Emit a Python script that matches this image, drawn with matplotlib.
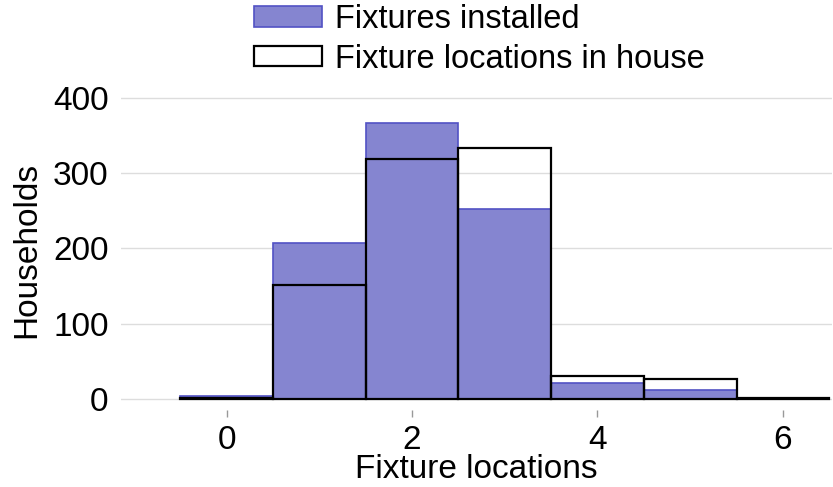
import matplotlib
matplotlib.use("Agg")
import matplotlib.pyplot as plt

locations = [0, 1, 2, 3, 4, 5, 6]
fixtures_installed = [4, 207, 367, 252, 21, 12, 0]
fixture_locations = [2, 151, 319, 333, 30, 26, 1]
yticks = [0, 100, 200, 300, 400]
xticks = [0, 2, 4, 6]

plt.rcParams['font.family'] = ['Liberation Sans', 'DejaVu Sans']

fig = plt.figure(figsize=(8.33, 4.87), dpi=100)
left_px, right_px, top_px, bot_px = 121, 832, 90, 410
ax = fig.add_axes([left_px/833, 1-bot_px/487, (right_px-left_px)/833, (bot_px-top_px)/487])

ax.bar(locations, fixtures_installed, width=1.0, facecolor='#8585d0',
       edgecolor='#5252c4', linewidth=1.2, label='Fixtures installed', zorder=2)
ax.bar(locations, fixture_locations, width=1.0, facecolor='none',
       edgecolor='black', linewidth=1.6, label='Fixture locations in house', zorder=3)

ax.set_xlim(-1.14, 6.53)
ax.set_ylim(-14.6, 410.6)
ax.set_yticks(yticks)
ax.set_xticks(xticks)
ax.grid(axis='y', color='#dddddd', linewidth=1.0, zorder=0)
ax.set_axisbelow(True)
for s in ax.spines.values():
    s.set_visible(False)
ax.tick_params(axis='y', length=0, labelsize=24, pad=9)
ax.tick_params(axis='x', length=5, width=1, color='#999999', labelsize=24, pad=6)
ax.set_xlabel('Fixture locations', fontsize=24, labelpad=-2)
ax.set_ylabel('Households', fontsize=24, labelpad=8)

fig.legend(loc='upper left', bbox_to_anchor=(231/833, 1.038), frameon=False,
           fontsize=23.5, handlelength=2.1, handleheight=0.6, labelspacing=0.25,
           handletextpad=0.4, borderpad=0.2)

fig.savefig('out.png', dpi=100)
